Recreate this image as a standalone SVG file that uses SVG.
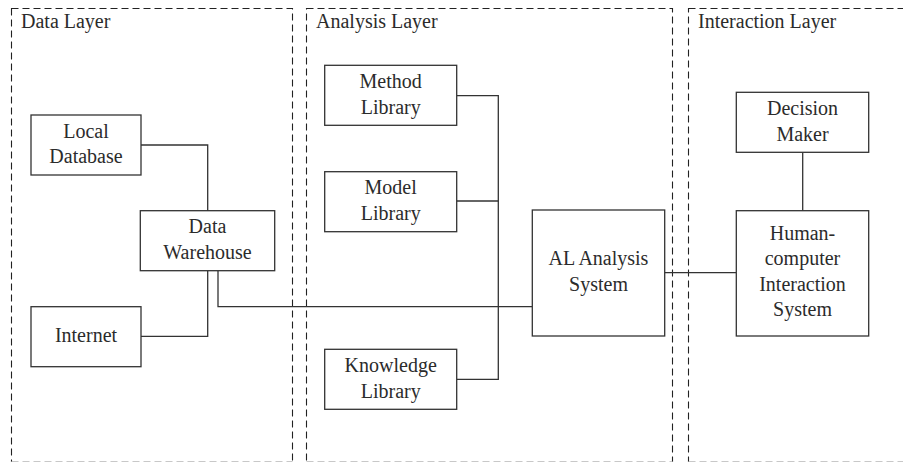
<svg xmlns="http://www.w3.org/2000/svg" width="903" height="462" viewBox="0 0 903 462">
  <style>
    .layer { fill: none; stroke: #222; stroke-width: 1.1; stroke-dasharray: 7 4; }
    .layer-foot { fill: none; stroke: #c8c8c8; stroke-width: 1.1; stroke-dasharray: 7 4; }
    .node rect { fill: #fff; stroke: #333; stroke-width: 1.3; }
    .wire { fill: none; stroke: #333; stroke-width: 1.3; }
    text { font-family: "Liberation Serif", "Times New Roman", serif; font-size: 20px; fill: #2b2b2b; }
    .c { text-anchor: middle; }
  </style>
  <rect width="903" height="462" fill="#fff"/>

  <!-- layer frames -->
  <g id="layers">
    <rect class="layer" x="11.5" y="8.5" width="281" height="454"/>
    <rect class="layer" x="306.5" y="8.5" width="366" height="454"/>
    <rect class="layer" x="688.5" y="8.5" width="230" height="454"/>
    <line class="layer-foot" x1="11.5" y1="461.5" x2="292.5" y2="461.5"/>
    <line class="layer-foot" x1="306.5" y1="461.5" x2="672.5" y2="461.5"/>
    <line class="layer-foot" x1="688.5" y1="461.5" x2="903" y2="461.5"/>
    <text x="21" y="28">Data Layer</text>
    <text x="316" y="28">Analysis Layer</text>
    <text x="698" y="28">Interaction Layer</text>
  </g>

  <!-- connectors -->
  <g id="connectors">
    <polyline class="wire" points="141,145 207.7,145 207.7,211"/>
    <polyline class="wire" points="141,336.3 207.7,336.3 207.7,271"/>
    <polyline class="wire" points="218,271 218,306.7 532.3,306.7"/>
    <polyline class="wire" points="457,95.7 498.3,95.7 498.3,379.3 457,379.3"/>
    <line class="wire" x1="457" y1="201" x2="498.3" y2="201"/>
    <line class="wire" x1="665" y1="272.7" x2="736.3" y2="272.7"/>
    <line class="wire" x1="802.7" y1="152.3" x2="802.7" y2="210.7"/>
  </g>

  <!-- data layer nodes -->
  <g id="local-database" class="node">
    <rect x="31" y="115" width="110" height="60"/>
    <text class="c" x="86" y="137.5">Local</text>
    <text class="c" x="86" y="163">Database</text>
  </g>
  <g id="data-warehouse" class="node">
    <rect x="140.3" y="210.7" width="134.4" height="60"/>
    <text class="c" x="207.5" y="233.3">Data</text>
    <text class="c" x="207.5" y="258.7">Warehouse</text>
  </g>
  <g id="internet" class="node">
    <rect x="31" y="306.7" width="110" height="60"/>
    <text class="c" x="86" y="342">Internet</text>
  </g>

  <!-- analysis layer nodes -->
  <g id="method-library" class="node">
    <rect x="324.7" y="65.3" width="132" height="60"/>
    <text class="c" x="390.7" y="88">Method</text>
    <text class="c" x="390.7" y="113.5">Library</text>
  </g>
  <g id="model-library" class="node">
    <rect x="324.7" y="171.7" width="132" height="60"/>
    <text class="c" x="390.7" y="194.3">Model</text>
    <text class="c" x="390.7" y="219.8">Library</text>
  </g>
  <g id="knowledge-library" class="node">
    <rect x="324.7" y="349.3" width="132" height="60"/>
    <text class="c" x="390.7" y="372">Knowledge</text>
    <text class="c" x="390.7" y="397.5">Library</text>
  </g>
  <g id="al-analysis-system" class="node">
    <rect x="532.3" y="210" width="132.4" height="126"/>
    <text class="c" x="598.5" y="265">AL Analysis</text>
    <text class="c" x="598.5" y="291">System</text>
  </g>

  <!-- interaction layer nodes -->
  <g id="decision-maker" class="node">
    <rect x="736.3" y="92.3" width="132.4" height="60"/>
    <text class="c" x="802.5" y="115">Decision</text>
    <text class="c" x="802.5" y="140.5">Maker</text>
  </g>
  <g id="hci-system" class="node">
    <rect x="736.3" y="210.7" width="132.4" height="125.3"/>
    <text class="c" x="802.5" y="239.5">Human-</text>
    <text class="c" x="802.5" y="265">computer</text>
    <text class="c" x="802.5" y="290.5">Interaction</text>
    <text class="c" x="802.5" y="316">System</text>
  </g>
</svg>
